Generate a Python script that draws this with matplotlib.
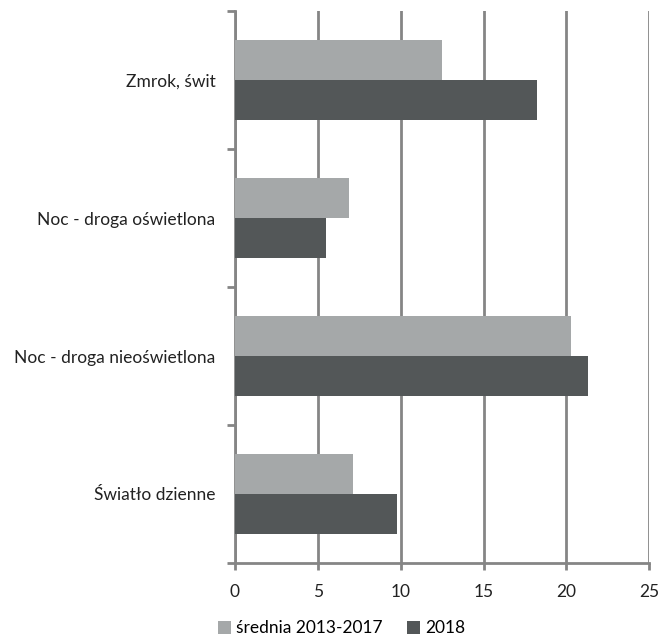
import matplotlib.pyplot as plt
import numpy as np

plt.rcParams['font.family'] = ['Lato', 'DejaVu Sans']

# data (top to bottom as in the chart)
categories = ['Zmrok, świt', 'Noc - droga oświetlona', 'Noc - droga nieoświetlona', 'Światło dzienne']
avg_2013_2017 = [12.5, 6.9, 20.3, 7.1]
val_2018 = [18.2, 5.5, 21.3, 9.8]
series_names = ['średnia 2013-2017', '2018']

light = '#a5a8a9'
dark = '#535758'
grid_col = '#858585'

fig = plt.figure(figsize=(6.59, 6.41), dpi=100)
ax = fig.add_axes([0.3566, 0.1217, 0.6287, 0.8611])

y = np.arange(len(categories))[::-1]  # first category at top
h = 0.288
ax.barh(y + h / 2, avg_2013_2017, height=h, color=light, label=series_names[0], zorder=3)
ax.barh(y - h / 2, val_2018, height=h, color=dark, label=series_names[1], zorder=3)

ax.set_xlim(0, 25)
ax.set_ylim(-0.5, len(categories) - 0.5)
ax.set_xticks(range(0, 26, 5))
ax.xaxis.grid(True, color=grid_col, linewidth=2, zorder=0)
ax.tick_params(axis='x', length=5, width=2, color=grid_col, labelsize=12.5, pad=10, labelcolor='#222222')

# category labels at centres, tick marks at the boundaries
ax.set_yticks(y)
ax.set_yticklabels(categories, fontsize=12.5, color='#222222')
ax.tick_params(axis='y', length=0, pad=14)
ax.set_yticks(np.arange(-0.5, len(categories), 1), minor=True)
ax.tick_params(axis='y', which='minor', length=6, width=2, color=grid_col)

for s in ['top', 'right']:
    ax.spines[s].set_visible(False)
for s in ['left', 'bottom']:
    ax.spines[s].set_color(grid_col)
    ax.spines[s].set_linewidth(2)

ax.legend(loc='upper left', bbox_to_anchor=(-0.041, -0.104), ncol=2, frameon=False,
          fontsize=12.5, handlelength=0.75, handleheight=0.75, handletextpad=0.3,
          columnspacing=1.4, borderpad=0, borderaxespad=0)

fig.savefig('out.png', dpi=100)
